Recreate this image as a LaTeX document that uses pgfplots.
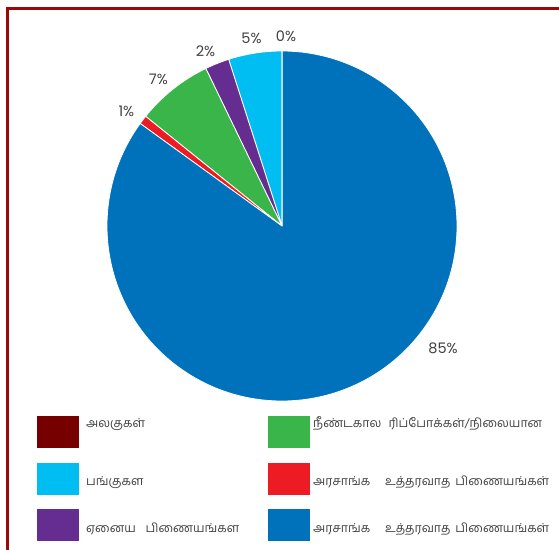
\documentclass[border=0pt]{standalone}
\usepackage{pgfplots}
\usepackage{pgfplotstable}
\pgfplotsset{compat=1.18}
\usepackage{fontspec}
\setmainfont{Poppins}
\newfontfamily\tamil[Script=Tamil]{Hind Madurai}
\definecolor{cdarkred}{RGB}{118,0,0}
\definecolor{cgreen}{RGB}{57,181,74}
\definecolor{clightblue}{RGB}{0,189,242}
\definecolor{cred}{RGB}{237,28,36}
\definecolor{cpurple}{RGB}{102,45,145}
\definecolor{cblue}{RGB}{0,114,188}
\definecolor{cframe}{RGB}{155,8,8}
\definecolor{ctext}{RGB}{64,64,64}
% counter-clockwise from 12 o'clock
\pgfplotstableread{
value color
4.93 clightblue
2.24 cpurple
7.05 cgreen
0.82 cred
84.96 cblue
0.00 cdarkred
}\piedata
\begin{document}
\begin{tikzpicture}
\useasboundingbox (0,0) rectangle (559pt,549pt);
\draw[cframe, line width=2.7pt] (7.3pt,-10pt) -- (7.3pt,540.3pt) -- (570pt,540.3pt);
\begin{axis}[
  at={(282pt,323pt)}, anchor=center,
  scale only axis, width=350pt, height=350pt,
  xmin=-1, xmax=1, ymin=-1, ymax=1,
  hide axis, clip=false]
\pgfplotsextra{
  \pgfplotstablegetrowsof{\piedata}
  \pgfmathtruncatemacro\N{\pgfplotsretval-1}
  \xdef\startang{90}
  \foreach \i in {0,...,\N}{
    \pgfplotstablegetelem{\i}{value}\of\piedata \let\v\pgfplotsretval
    \pgfplotstablegetelem{\i}{color}\of\piedata \let\c\pgfplotsretval
    \pgfmathsetmacro\endang{\startang+3.6*\v}
    \fill[fill=\c, draw=white, line width=0.8pt, line join=round]
      (axis cs:0,0) -- (axis cs:{cos(\startang)},{sin(\startang)})
      arc[start angle=\startang, end angle=\endang, radius=175pt] -- cycle;
    \xdef\startang{\endang}
  }
}
\begin{scope}[every node/.style={font=\fontsize{14.5}{16}\selectfont, text=ctext}]
\node at (axis cs:0.92,-0.70) {85\%};
\node at (axis cs:-0.889,0.657) {1\%};
\node at (axis cs:-0.706,0.84) {7\%};
\node at (axis cs:-0.437,1.0) {2\%};
\node at (axis cs:-0.174,1.071) {5\%};
\node at (axis cs:0.023,1.086) {0\%};
\end{scope}
\end{axis}
% legend
\fill[cdarkred] (37pt,101pt) rectangle (79pt,133pt);
\fill[clightblue] (37pt,54pt) rectangle (79pt,86pt);
\fill[cpurple] (37pt,8pt) rectangle (79pt,40pt);
\fill[cgreen] (268pt,101pt) rectangle (310pt,133pt);
\fill[cred] (268pt,54pt) rectangle (310pt,86pt);
\fill[cblue] (268pt,8pt) rectangle (310pt,40pt);
\begin{scope}[every node/.style={anchor=base west, inner sep=0pt, text=ctext, font=\tamil\fontsize{12.3}{14}\selectfont}]
\node at (86pt,122pt) {அலகுகள்};
\node at (86pt,64pt) {பங்குகள};
\node at (86pt,17pt) {ஏனைய\hspace{0.8em}பிணையங்கள};
\node at (313pt,122pt) {நீண்டகால\hspace{0.6em}ரிப்போக்கள்/நிலையான};
\node at (313pt,64pt) {அரசாங்க\hspace{1.2em}உத்தரவாத\hspace{0.4em}பிணையங்கள்};
\node at (313pt,17pt) {அரசாங்க\hspace{1.2em}உத்தரவாத\hspace{0.4em}பிணையங்கள்};
\end{scope}
\end{tikzpicture}
\end{document}
